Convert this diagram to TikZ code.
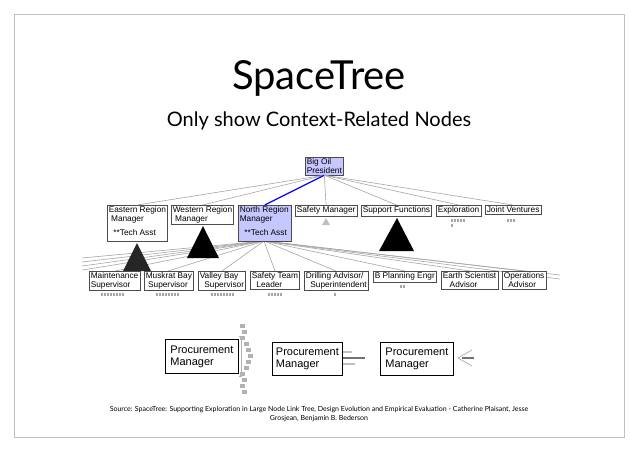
\documentclass[tikz,border=0pt]{standalone}
\usepackage{fontspec}
\setmainfont{Lato}
\newfontfamily\nodefont{Liberation Sans}
\newcommand{\grdots}[3]{\foreach \i in {1,...,#3} \fill[black!35] ({#1+(\i-1)*3},#2) rectangle +(2.2,2.5);}
\begin{document}
\begin{tikzpicture}[x=1pt,y=-1pt,
 box/.style={draw=black!70,line width=0.6pt,fill=white,inner sep=1.5pt,anchor=north west,align=left,font=\nodefont\fontsize{8.3}{8.5}\selectfont},
 sel/.style={box,fill=blue!22},
 edge/.style={draw=black!35,line width=0.6pt},
 tri/.style={fill=black},
 pbox/.style={draw=black,line width=0.8pt,fill=white,inner sep=3pt,anchor=north west,align=left,font=\nodefont\fontsize{11}{12}\selectfont}]
\useasboundingbox (0,0) rectangle (638,451);
\fill[white] (0,0) rectangle (638,451);
\draw[black!25,line width=0.5pt] (14,14) rectangle (624,437);
\node (title) at (319,78) {\fontsize{40}{44}\selectfont SpaceTree};
\node (sub) at (319,121) {\fontsize{20}{24}\selectfont Only show Context-Related Nodes};
\coordinate (nr) at (264,241);
\foreach \x/\y in {115/271,168/271,222/271,275/271,336/271,405/271,470/271,523/271}
  \draw[edge] (nr) -- (\x,\y);
\foreach \y in {258,262,266,270} \draw[edge] (nr) -- (82,\y);
\foreach \y in {275,279} \draw[edge] (nr) -- (560,\y);
\fill[black!85] (137,243) -- (123,271) -- (151,271) -- cycle;
\fill[tri] (203,226) -- (187,258) -- (219,258) -- cycle;
\fill[tri] (397,218) -- (379,251) -- (414,251) -- cycle;
\fill[black!25] (326,218) -- (322,225) -- (330,225) -- cycle;
\node[sel] (big) at (305,157) {Big Oil\\President};
\node[box,minimum width=60pt,minimum height=36pt] (er) at (107,205) {};
\node[box,fill=none,draw=none] at (107,205) {Eastern Region\\\ Manager\\[6pt]\ \ **Tech Asst};
\node[box] (wr) at (171,205) {Western Region\\\ Manager};
\node[sel,minimum width=53pt,minimum height=36pt] (nrn) at (238,205) {};
\node[box,draw=none,fill=none] at (238,205) {North Region\\Manager\\[6pt]\ \ **Tech Asst};
\node[box] (sm) at (295,205) {Safety Manager};
\node[box] (sf) at (361,205) {Support Functions};
\node[box] (ex) at (436,205) {Exploration};
\node[box] (jv) at (485,205) {Joint Ventures};
\draw[edge] (big.south) -- (er.north);
\draw[edge] (big.south) -- (wr.north);
\draw[blue,line width=1.2pt] (big.south) -- (nrn.north);
\draw[edge] (big.south) -- (sm.north);
\draw[edge] (big.south) -- (sf.north);
\draw[edge] (big.south) -- (ex.north);
\draw[edge] (big.south) -- (jv.north);
\node[box] (ms) at (89,271) {Maintenance\\Supervisor};
\node[box] (mb) at (144,271) {Muskrat Bay\\\ Supervisor};
\node[box] (vb) at (198,271) {Valley Bay\\\ \ Supervisor};
\node[box] (st) at (250,271) {Safety Team\\\ \ Leader};
\node[box] (da) at (304,271) {Drilling Advisor/\\\ \ Superintendent};
\node[box] (bp) at (373,271) {B Planning Engr};
\node[box] (es) at (441,271) {Earth Scientist\\\ \ \ Advisor};
\node[box] (oa) at (502,271) {Operations\\\ \ Advisor};
\grdots{101}{293}{8}
\grdots{156}{293}{8}
\grdots{211}{293}{8}
\grdots{268}{293}{5}
\grdots{334}{293}{1}
\grdots{400}{285}{2}
\grdots{451}{219}{5}
\grdots{451}{224}{1}
\grdots{507}{219}{3}
\node[pbox,minimum width=73pt,minimum height=34pt] (p1) at (165,339) {Procurement\\Manager};
\node[pbox,minimum width=70pt,minimum height=33pt] (p2) at (272,342) {Procurement\\Manager};
\node[pbox,minimum width=73pt,minimum height=33pt] (p3) at (380,342) {Procurement\\Manager};
\foreach \y/\dx in {324/2,330/4,336/2,342/6,348/8,354/10,360/8,366/6,372/2,378/4,384/2,390/4}
  \fill[black!30] (238+\dx,\y) rectangle +(5,4);
\draw[black!30,line width=0.6pt] (p1.east) ++(0,-20) -- ++(2,0) -- ++(0,40) -- ++(-2,0);
\draw[black!25,line width=2pt] (343,352) -- (352,352);
\draw[black!55,line width=2pt] (343,358) -- (365,358);
\draw[black!25,line width=2pt] (343,364) -- (355,364);
\draw[black!30,line width=0.8pt] (472,350) -- (458,358) -- (472,366);
\draw[black!55,line width=1.5pt] (462,358) -- (474,358);
\node[font=\fontsize{7}{8.5}\selectfont,align=center] (src) at (319,414) {Source: SpaceTree: Supporting Exploration in Large Node Link Tree, Design Evolution and Empirical Evaluation - Catherine Plaisant, Jesse\\Grosjean, Benjamin B. Bederson};
\end{tikzpicture}
\end{document}
